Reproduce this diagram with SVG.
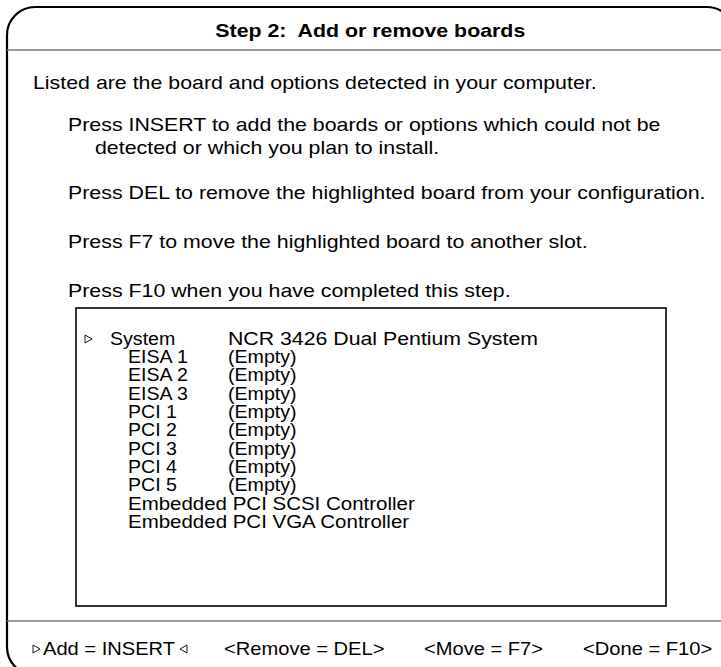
<svg xmlns="http://www.w3.org/2000/svg" width="721" height="667" viewBox="0 0 721 667">
<style>
text{font-family:"Liberation Sans",Arial,sans-serif;font-size:17.5px;fill:#000}
.title{font-weight:bold}
.sep{stroke:#777;stroke-width:1.5}
.tri{fill:none;stroke:#000;stroke-width:0.9}
</style>
<rect width="721" height="667" fill="#fff"/>
<g id="frame">
<path d="M7,35 A28,28 0 0 1 35,7 L707,7 A28,28 0 0 1 735,35 L735,647 A28,28 0 0 1 707,675 L35,675 A28,28 0 0 1 7,647 Z" fill="none" stroke="#000" stroke-width="2.2"/>
<line class="sep" x1="7" y1="50" x2="721" y2="50"/>
<line class="sep" x1="7" y1="621" x2="721" y2="621"/>
</g>
<g id="title" transform="scale(1.22 1)"><text class="title" x="176.5" y="37">Step 2:&#160; Add or remove boards</text></g>
<g id="instructions" transform="scale(1.22 1)">
<text x="27.05" y="89">Listed are the board and options detected in your computer.</text>
<text x="55.74" y="131">Press INSERT to add the boards or options which could not be</text>
<text x="77.87" y="154">detected or which you plan to install.</text>
<text x="55.74" y="199">Press DEL to remove the highlighted board from your configuration.</text>
<text x="55.74" y="248">Press F7 to move the highlighted board to another slot.</text>
<text x="55.74" y="297">Press F10 when you have completed this step.</text>
</g>
<g id="board-list">
<rect x="76" y="308" width="590" height="298" fill="none" stroke="#000" stroke-width="1.6"/>
<path class="tri" d="M85,335 L92,339 L85,343 Z"/>
<g transform="scale(1.12 1)">
<text x="98.21" y="345">System</text><text x="203.57" y="345" textLength="276.8" lengthAdjust="spacingAndGlyphs">NCR 3426 Dual Pentium System</text>
<text x="114.29" y="363">EISA 1</text><text x="203.57" y="363">(Empty)</text>
<text x="114.29" y="381.5">EISA 2</text><text x="203.57" y="381.5">(Empty)</text>
<text x="114.29" y="400">EISA 3</text><text x="203.57" y="400">(Empty)</text>
<text x="114.29" y="418">PCI 1</text><text x="203.57" y="418">(Empty)</text>
<text x="114.29" y="436.5">PCI 2</text><text x="203.57" y="436.5">(Empty)</text>
<text x="114.29" y="455">PCI 3</text><text x="203.57" y="455">(Empty)</text>
<text x="114.29" y="473">PCI 4</text><text x="203.57" y="473">(Empty)</text>
<text x="114.29" y="491.5">PCI 5</text><text x="203.57" y="491.5">(Empty)</text>
<text x="114.29" y="510" textLength="256" lengthAdjust="spacingAndGlyphs">Embedded PCI SCSI Controller</text>
<text x="114.29" y="528" textLength="251" lengthAdjust="spacingAndGlyphs">Embedded PCI VGA Controller</text>
</g>
</g>
<g id="footer">
<path class="tri" d="M33,645 L40,649 L33,653 Z"/>
<path class="tri" d="M187,645 L180,649 L187,653 Z"/>
<g transform="scale(1.15 1)">
<text x="37.39" y="655">Add = INSERT</text>
<text x="194.78" y="655">&lt;Remove = DEL&gt;</text>
<text x="368.7" y="655">&lt;Move = F7&gt;</text>
<text x="506.96" y="655">&lt;Done = F10&gt;</text>
</g>
</g>
</svg>
